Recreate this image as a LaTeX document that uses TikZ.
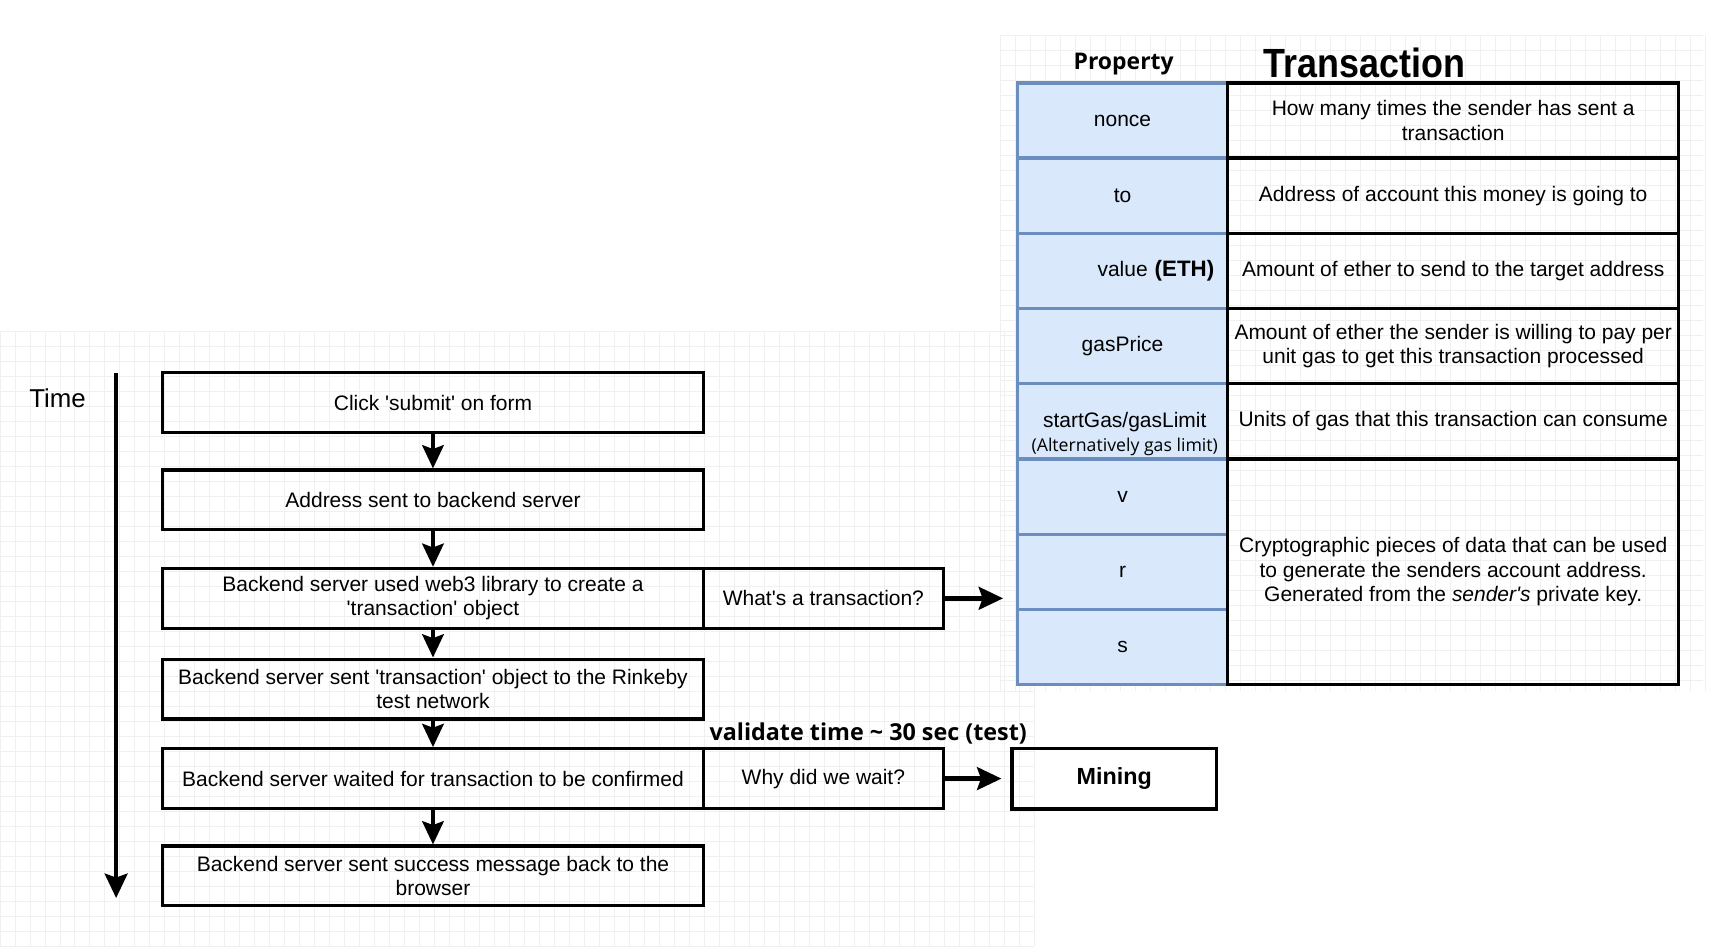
\documentclass[tikz,border=0pt]{standalone}
\usepackage{fontspec}
\usepackage{graphicx}
\setmainfont{Liberation Sans}
\newfontfamily\ofont{Open Sans}
\usetikzlibrary{arrows.meta}
\definecolor{cellblue}{HTML}{DAE8FC}
\definecolor{cellborder}{HTML}{6C8EBF}
\definecolor{gridgray}{HTML}{F0F0F0}
\begin{document}
\begin{tikzpicture}[x=0.02cm,y=-0.02cm,
  every node/.style={font=\fontsize{10.8}{12.5}\selectfont, inner sep=0pt, text=black},
  flowbox/.style={draw=black, line width=1.7pt, minimum width=9.78cm, minimum height=1.08cm, align=center},
  qbox/.style={draw=black, line width=1.7pt, minimum width=4.34cm, minimum height=1.08cm, align=center},
  minebox/.style={draw=black, line width=1.7pt, minimum width=3.7cm, minimum height=1.1cm, font=\fontsize{12}{14}\selectfont\bfseries},
  propcell/.style={draw=cellborder, fill=cellblue, line width=1.7pt, minimum width=3.8cm, minimum height=1.36cm, align=center},
  desccell/.style={draw=black, line width=1.7pt, minimum width=8.16cm, minimum height=1.36cm, align=center},
  flowarrow/.style={line width=2.0pt, -{Stealth[length=0.42cm, width=0.39cm, inset=0.07cm]}},
  bigarrow/.style={line width=2.4pt, -{Stealth[length=0.44cm, width=0.41cm, inset=0.07cm]}},
  timearrow/.style={line width=2.3pt, -{Stealth[length=0.44cm, width=0.41cm, inset=0.07cm]}},
  gridline/.style={draw=gridgray, line width=0.5pt},
  ktext/.style={font=\ofont\fontsize{12}{14}\selectfont\bfseries},
]
\useasboundingbox[fill=white] (0,0) rectangle (1567,855.4);

% faint background grids
\foreach \i in {0,...,69} { \draw[gridline] ({\i*13.56},300) -- ({\i*13.56},855); }
\foreach \j in {0,...,41} { \draw[gridline] (0,{300+\j*13.56}) -- (935,{300+\j*13.56}); }
\foreach \i in {0,...,47} { \draw[gridline] ({905+\i*13.56},32) -- ({905+\i*13.56},625); }
\foreach \j in {0,...,43} { \draw[gridline] (905,{32+\j*13.56}) -- (1540,{32+\j*13.56}); }

% time axis
\node[font=\fontsize{13.3}{15}\selectfont] (time) at (52,360) {Time};
\coordinate (tstart) at (105,337);
\coordinate (tend) at (105,812);
\draw[timearrow] (tstart) -- (tend);

% flow boxes
\node[flowbox] (b1) at (391.5,364) {Click \textquotesingle submit\textquotesingle{} on form};
\node[flowbox] (b2) at (391.5,452) {Address sent to backend server};
\node[flowbox] (b3) at (391.5,541) {Backend server used web3 library to create a\\\textquotesingle transaction\textquotesingle{} object};
\node[qbox] (q1) at (744.5,541) {What\textquotesingle s a transaction?};
\node[flowbox] (b4) at (391.5,623) {Backend server sent \textquotesingle transaction\textquotesingle{} object to the Rinkeby\\test network};
\node[flowbox] (b5) at (391.5,704) {Backend server waited for transaction to be confirmed};
\node[qbox] (q2) at (744.5,704) {Why did we wait?};
\node[flowbox] (b6) at (391.5,792) {Backend server sent success message back to the\\browser};
\node[minebox] (mining) at (1007.5,704) {Mining};
\node[ktext] (validate) at (785,663) {validate time \textasciitilde{} 30 sec (test)};

\draw[flowarrow] (b1) -- (b2);
\draw[flowarrow] (b2) -- (b3);
\draw[flowarrow] (b3) -- (b4);
\draw[flowarrow] (b4) -- (b5);
\draw[flowarrow] (b5) -- (b6);

\coordinate (q1tip) at (907,541);
\draw[bigarrow] (q1) -- (q1tip);
\draw[bigarrow, shorten >=0.16cm] (q2) -- (mining);

% table headers
\node[font=\ofont\fontsize{11.8}{14}\selectfont\bfseries] (prophead) at (1016,58) {Property};
\node (txhead) at (1234,57) {\scalebox{0.88}[1]{\fontsize{21}{21}\selectfont\bfseries Transaction}};

% property column
\node[propcell] (p1) at (1015,109) {nonce};
\node[propcell] (p2) at (1015,177) {to};
\node[propcell, text width=3.32cm, align=right] (p3) at (1015,245) {value {\fontsize{11.5}{13}\selectfont\bfseries(ETH)}};
\node[propcell] (p4) at (1015,313) {gasPrice};
\node[propcell] (p5) at (1015,381) {};
\node (p5a) at (1017,382) {startGas/gasLimit};
\node[font=\ofont\fontsize{9.1}{11}\selectfont] (p5b) at (1017,404) {(Alternatively gas limit)};
\node[propcell] (p6) at (1015,449) {v};
\node[propcell] (p7) at (1015,517) {r};
\node[propcell] (p8) at (1015,585) {s};

% description column
\node[desccell] (d1) at (1314,109) {How many times the sender has sent a\\transaction};
\node[desccell] (d2) at (1314,177) {Address of account this money is going to};
\node[desccell] (d3) at (1314,245) {Amount of ether to send to the target address};
\node[desccell] (d4) at (1314,313) {Amount of ether the sender is willing to pay per\\unit gas to get this transaction processed};
\node[desccell] (d5) at (1314,381) {Units of gas that this transaction can consume};
\node[desccell, minimum height=4.08cm] (d6) at (1314,517) {Cryptographic pieces of data that can be used\\to generate the senders account address.\\Generated from the \textit{sender\textquotesingle s} private key.};
\end{tikzpicture}
\end{document}
